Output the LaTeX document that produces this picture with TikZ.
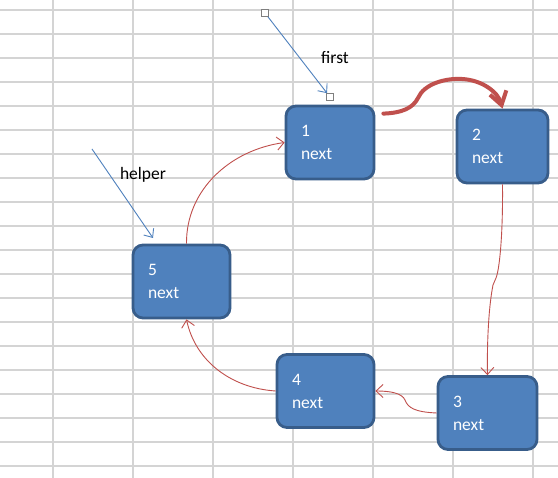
\documentclass[tikz,border=0pt]{standalone}
\usepackage{fontspec}
\setmainfont{Carlito}
\usepackage{xcolor}
\usepackage{tikz}
\usetikzlibrary{arrows.meta,calc}
\definecolor{ListBlue}{HTML}{4F81BD}
\definecolor{ListEdge}{HTML}{385D8A}
\definecolor{LinkRed}{HTML}{C0504D}
\definecolor{SheetGrid}{HTML}{D4D4D4}
\definecolor{HandleGray}{HTML}{7F7F7F}
\tikzset{
  cell/.style={draw=ListEdge,line width=2.8pt,rounded corners=10pt,fill=ListBlue,
    text=white,align=left,inner xsep=15pt,inner ysep=4pt,minimum height=73pt,
    font=\fontsize{17.5}{23}\selectfont},
  link/.style={-{Straight Barb[length=7pt,width=13pt]},draw=LinkRed,line width=0.9pt},
  hop/.style={-{Straight Barb[length=13pt,width=17pt]},draw=LinkRed,line width=4pt,
    line cap=round},
  pointer/.style={-{Straight Barb[length=7pt,width=12pt]},draw=ListBlue,line width=0.9pt},
  handle/.style={draw=HandleGray,fill=white,line width=0.7pt,minimum size=7pt,
    inner sep=0pt},
  tag/.style={font=\fontsize{17.5}{20}\selectfont,text=black}
}

\begin{document}
\begin{tikzpicture}[x=1pt,y=-1pt]
  \useasboundingbox[fill=white] (0,0) rectangle (558,478);
  % sheet grid
  \foreach \gx in {53,133,...,533}
    \draw[SheetGrid,line width=1.2pt] (\gx,0) -- (\gx,478);
  \foreach \gy in {10,34,...,466}
    \draw[SheetGrid,line width=1.2pt] (0,\gy) -- (558,\gy);

  % list nodes
  \node[cell,text width=58pt] (n1) at (330,142.5) {1\\next};
  \node[cell,text width=61pt] (n2) at (502.5,146.5) {2\\next};
  \node[cell,text width=69pt] (n3) at (487.5,413) {3\\next};
  \node[cell,text width=67pt] (n4) at (325.5,391) {4\\next};
  \node[cell,text width=67pt] (n5) at (181.5,281.5) {5\\next};

  % pointers
  \node[handle] (fromA) at (265,13) {};
  \node[handle] (fromB) at (330,97) {};
  \node[tag] (first) at (335,58) {first};
  \draw[pointer] (fromA) -- (fromB);
  \coordinate (hstart) at (92,149);
  \coordinate (hend) at (153,238);
  \node[tag] (helper) at (143,175) {helper};
  \draw[pointer] (hstart) -- (hend);

  % next links
  \draw[hop] ($(n1.north east)+(8,9)$) .. controls (402,113) and (413,108) .. (418,98)
    .. controls (424,84) and (445,78) .. (462,79)
    .. controls (482,80) and (498,92) .. (n2.north);
  \draw[link] (n2.south) .. controls (503,230) and (500,268) .. (496,278)
    -- (493,285) .. controls (488,310) and (487,350) .. (n3.north);
  \draw[link] (n3.west) .. controls (415,412) and (408,408) .. (405,400)
    .. controls (402,393) and (390,391) .. (n4.east);
  \draw[link] (n4.west) .. controls (230,388) and (195,360) .. ($(n5.south)+(5,0)$);
  \draw[link] ($(n5.north)+(5,0)$) .. controls (186,190) and (230,150) .. (n1.west);
\end{tikzpicture}
\end{document}
